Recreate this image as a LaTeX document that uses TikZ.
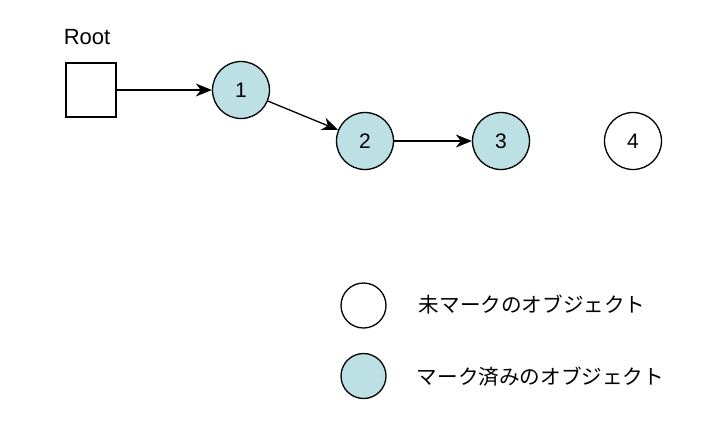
\documentclass[tikz,border=0pt]{standalone}
\usepackage{fontspec}
\setmainfont{Liberation Sans}
\newfontfamily\jpfont{Noto Sans CJK JP}
\usetikzlibrary{arrows.meta}

\definecolor{marked}{RGB}{188,224,227}

\tikzset{
  obj/.style={circle, draw, line width=1.3pt, minimum size=57pt, inner sep=0pt},
  key/.style={circle, draw, line width=1.3pt, minimum size=45pt, inner sep=0pt},
  root/.style={rectangle, draw, line width=1.2pt, minimum width=50pt, minimum height=54pt}
}

\begin{document}
\begin{tikzpicture}[x=1pt,y=-1pt,-{Stealth[length=16pt,width=13pt,inset=5pt]},line width=1.3pt,font=\fontsize{21}{24}\selectfont]
\useasboundingbox (0,0) rectangle (720,429);

\node [root]                 (r)    at (91,90)  {};
\node [font=\fontsize{22}{26}\selectfont] (rlbl) at (87,37) {Root};
\node [obj, fill=marked]     (o1)   at (241,90) {1};
\node [obj, fill=marked]     (o2)   at (365,141) {2};
\node [obj, fill=marked]     (o3)   at (501,141) {3};
\node [obj]                  (o4)   at (633,141) {4};

\path (r)  edge (o1)
      (o1) edge (o2)
      (o2) edge (o3);

% legend
\node [key]                  (k1)   at (363.5,305.5) {};
\node [key, fill=marked]     (k2)   at (363.5,376)   {};
\node [anchor=west, font=\jpfont\fontsize{20.6}{24}\selectfont] (t1) at (415,304) {未マークのオブジェクト};
\node [anchor=west, font=\jpfont\fontsize{20.6}{24}\selectfont] (t2) at (413,377) {マーク済みのオブジェクト};

\end{tikzpicture}
\end{document}
